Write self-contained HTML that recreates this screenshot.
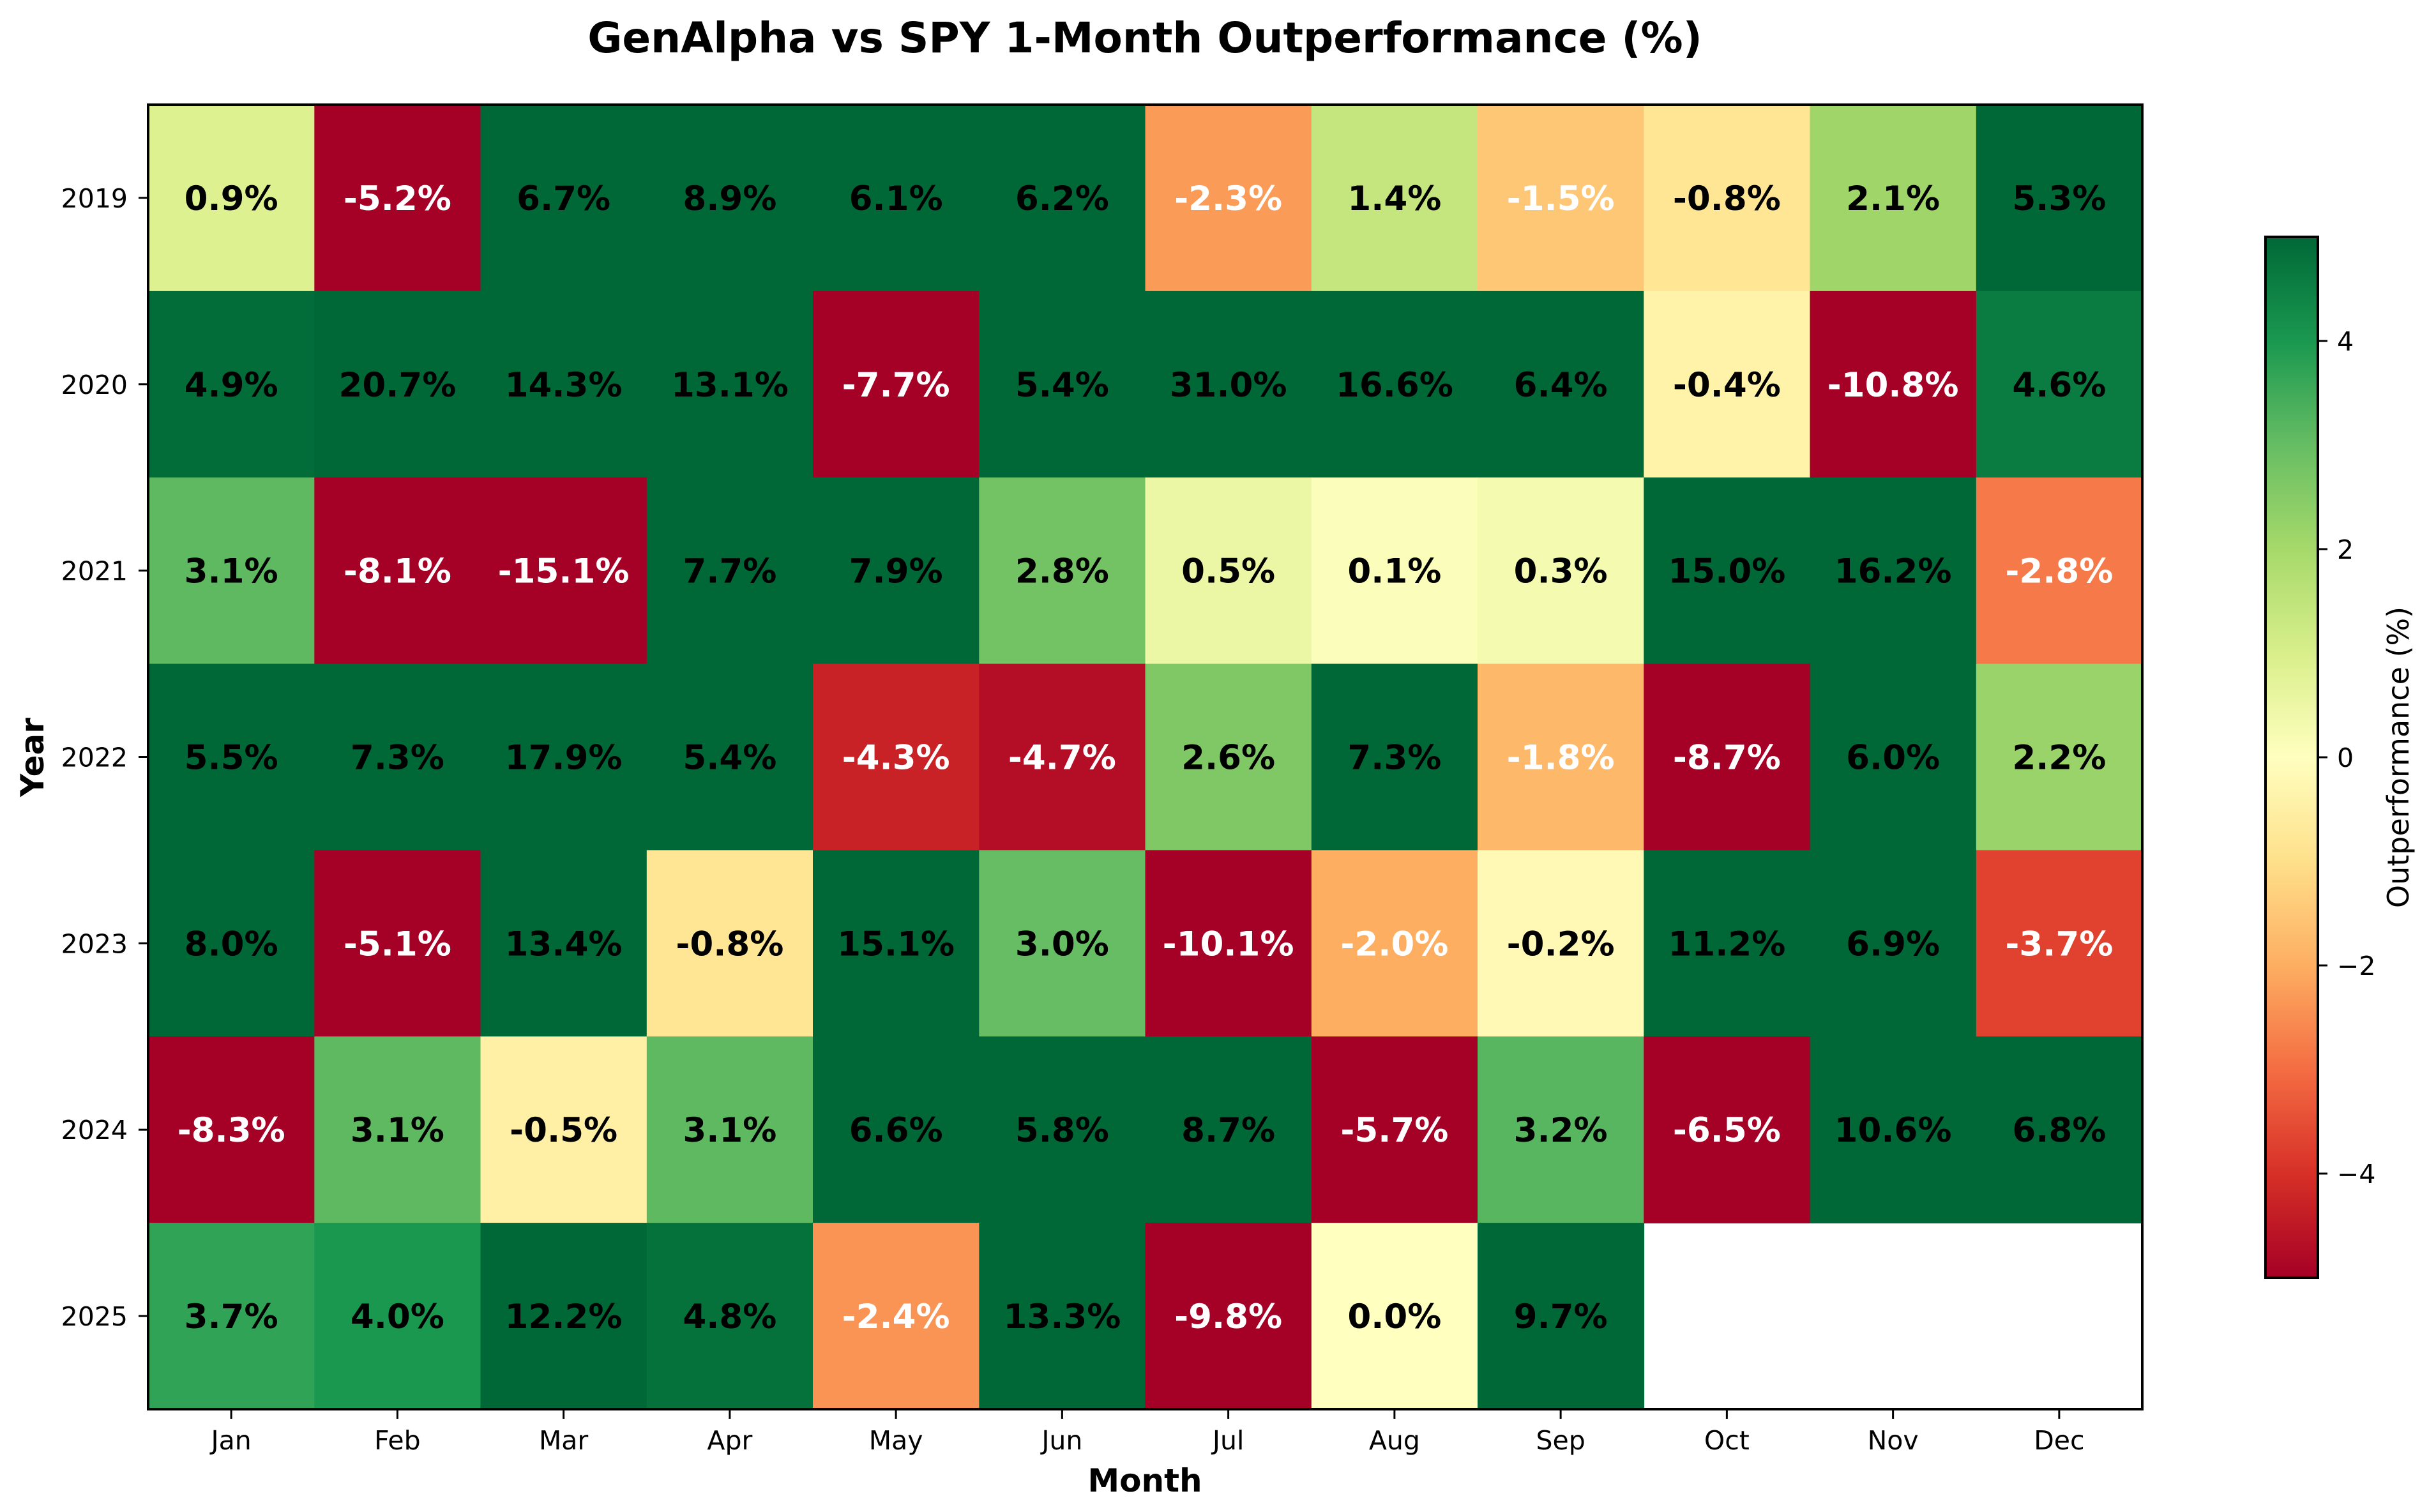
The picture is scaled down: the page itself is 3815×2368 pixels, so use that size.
<!DOCTYPE html>
<html><head><meta charset="utf-8">
<style>
html,body{margin:0;padding:0;background:#fff;}
svg{display:block;}
text{font-family:"DejaVu Sans","Liberation Sans",sans-serif;}
</style></head>
<body>
<svg id="s" width="3815" height="2368" viewBox="0 0 3815 2368" xmlns="http://www.w3.org/2000/svg">
<defs>
<linearGradient id="cb" x1="0" y1="1" x2="0" y2="0">
<stop offset="0" stop-color="#a50026"/><stop offset="0.1" stop-color="#d73027"/>
<stop offset="0.2" stop-color="#f46d43"/><stop offset="0.3" stop-color="#fdae61"/>
<stop offset="0.4" stop-color="#fee08b"/><stop offset="0.5" stop-color="#ffffbf"/>
<stop offset="0.6" stop-color="#d9ef8b"/><stop offset="0.7" stop-color="#a6d96a"/>
<stop offset="0.8" stop-color="#66bd63"/><stop offset="0.9" stop-color="#1a9850"/>
<stop offset="1" stop-color="#006837"/>
</linearGradient>
</defs>
<text x="1793" y="82" font-size="66" font-weight="bold" text-anchor="middle">GenAlpha vs SPY 1-Month Outperformance (%)</text>
<g id="cells"></g>
<rect x="232" y="164" width="3123" height="2043" fill="none" stroke="#000" stroke-width="4"/>
<g id="ticks"></g>
<text x="1793" y="2336" font-size="50" font-weight="bold" text-anchor="middle">Month</text>
<text transform="translate(68,1186) rotate(-90)" font-size="50" font-weight="bold" text-anchor="middle">Year</text>
<rect x="3548" y="371" width="82" height="1630" fill="url(#cb)" stroke="#000" stroke-width="4"/>
<text transform="translate(3772,1186) rotate(-90)" font-size="46" text-anchor="middle">Outperformance (%)</text>
</svg>
<script>
var stops=["a50026","d73027","f46d43","fdae61","fee08b","ffffbf","d9ef8b","a6d96a","66bd63","1a9850","006837"].map(function(h){return [parseInt(h.substr(0,2),16),parseInt(h.substr(2,2),16),parseInt(h.substr(4,2),16)];});
function col(v){var t=(v+5)/10;if(t<0)t=0;if(t>1)t=1;var p=t*10,i=Math.min(9,Math.floor(p)),f=p-i;var a=stops[i],b=stops[i+1];return "rgb("+[0,1,2].map(function(k){return Math.round(a[k]+(b[k]-a[k])*f);}).join(",")+")";}
var data=[
[0.9,-5.2,6.7,8.9,6.1,6.2,-2.3,1.4,-1.5,-0.8,2.1,5.3],
[4.9,20.7,14.3,13.1,-7.7,5.4,31.0,16.6,6.4,-0.4,-10.8,4.6],
[3.1,-8.1,-15.1,7.7,7.9,2.8,0.5,0.1,0.3,15.0,16.2,-2.8],
[5.5,7.3,17.9,5.4,-4.3,-4.7,2.6,7.3,-1.8,-8.7,6.0,2.2],
[8.0,-5.1,13.4,-0.8,15.1,3.0,-10.1,-2.0,-0.2,11.2,6.9,-3.7],
[-8.3,3.1,-0.5,3.1,6.6,5.8,8.7,-5.7,3.2,-6.5,10.6,6.8],
[3.7,4.0,12.2,4.8,-2.4,13.3,-9.8,0.0,9.7,null,null,null]];
var years=[2019,2020,2021,2022,2023,2024,2025];
var months=["Jan","Feb","Mar","Apr","May","Jun","Jul","Aug","Sep","Oct","Nov","Dec"];
var X0=232,Y0=164,CW=3123/12,RH=2043/7,h="";
for(var r=0;r<7;r++)for(var c=0;c<12;c++){var v=data[r][c];if(v===null)continue;
var x=X0+c*CW,y=Y0+r*RH;
h+='<rect x="'+x.toFixed(1)+'" y="'+y.toFixed(1)+'" width="'+(CW+0.8).toFixed(1)+'" height="'+(RH+0.8).toFixed(1)+'" fill="'+col(v)+'"/>';
h+='<text x="'+(x+CW/2).toFixed(1)+'" y="'+(y+RH/2+19).toFixed(1)+'" font-size="53" font-weight="bold" text-anchor="middle" fill="'+(v<-1?'#fff':'#000')+'">'+v.toFixed(1)+'%</text>';}
document.getElementById("cells").innerHTML=h;
var t="";
for(var c=0;c<12;c++){var x=X0+(c+0.5)*CW;t+='<line x1="'+x+'" y1="2207" x2="'+x+'" y2="2222" stroke="#000" stroke-width="3"/><text x="'+x+'" y="2270" font-size="41" text-anchor="middle">'+months[c]+'</text>';}
for(var r=0;r<7;r++){var y=Y0+(r+0.5)*RH;t+='<line x1="217" y1="'+y+'" x2="232" y2="'+y+'" stroke="#000" stroke-width="3"/><text x="200" y="'+(y+15)+'" font-size="41" text-anchor="end">'+years[r]+'</text>';}
var cbv=[4,2,0,-2,-4];for(var i=0;i<5;i++){var v=cbv[i],y=2001-(v+5)*163;t+='<line x1="3630" y1="'+y+'" x2="3645" y2="'+y+'" stroke="#000" stroke-width="3"/><text x="3660" y="'+(y+15)+'" font-size="41">'+(v<0?'\u2212'+(-v):v)+'</text>';}
document.getElementById("ticks").innerHTML=t;
</script>
</body></html>
